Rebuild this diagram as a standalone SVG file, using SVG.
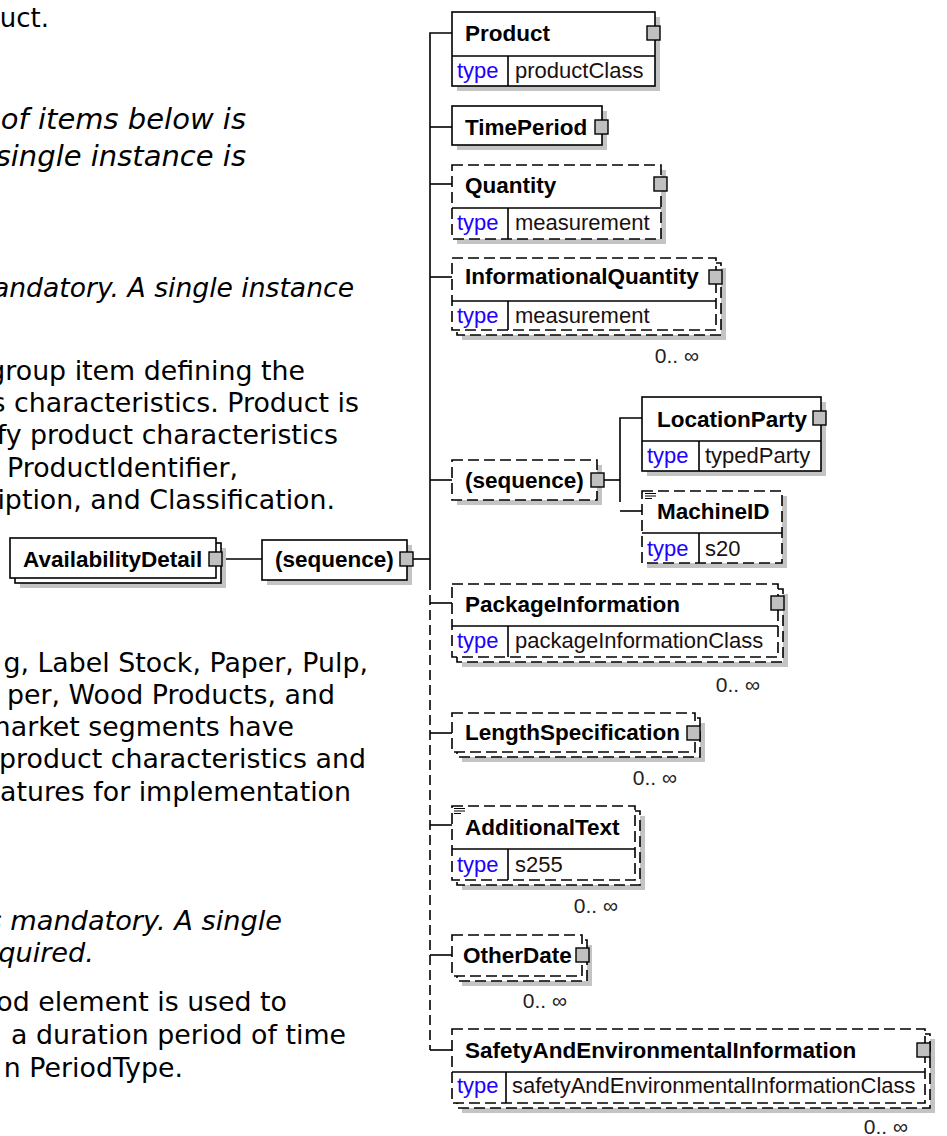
<svg xmlns="http://www.w3.org/2000/svg" width="947" height="1136" viewBox="0 0 947 1136">
<style>
.bg{fill:#fff}
.p{font-family:"DejaVu Sans",Verdana,sans-serif;font-size:26.8px;fill:#000;text-anchor:end}
.it{font-style:italic;font-size:26.6px}
.i2{font-style:italic;font-size:27.2px}
.ib{font-style:italic;font-size:29px}
.sm{font-size:26px}
.nm{font-family:"Liberation Sans",Arial,sans-serif;font-weight:bold;font-size:22.5px;fill:#000}
.tl{font-family:"Liberation Sans",Arial,sans-serif;font-size:22px;fill:#2200ff}
.tv{font-family:"Liberation Sans",Arial,sans-serif;font-size:22px;fill:#1a1010}
.oc{font-family:"Liberation Sans",Arial,sans-serif;font-size:21px;fill:#222;text-anchor:end}
.sh{fill:#c4c4c4}
.bx{fill:#fff;stroke:#000;stroke-width:1.6}
.db{fill:#fff;stroke:#000;stroke-width:1.6;stroke-dasharray:11 5}
.ln{fill:none;stroke:#000;stroke-width:1.6}
.dl{fill:none;stroke:#000;stroke-width:1.6;stroke-dasharray:10 5}
.sq{fill:#c0c0c0;stroke:#000;stroke-width:1.4}
.doc{fill:none;stroke:#000;stroke-width:1}
</style>
<rect class="bg" x="0" y="0" width="947" height="1136"/>

<g id="description-text">
<text class="p sm" x="49" y="27">uct.</text>
<text class="p ib" x="246" y="129">of items below is</text>
<text class="p ib" x="246" y="166">single instance is</text>
<text class="p it" x="354" y="297">andatory. A single instance</text>
<text class="p" x="305" y="380">group item defining the</text>
<text class="p" x="359" y="412">s characteristics. Product is</text>
<text class="p" x="338" y="444">fy product characteristics</text>
<text class="p" x="238" y="477">ProductIdentifier,</text>
<text class="p" x="335" y="509">iption, and Classification.</text>
<text class="p" x="368" y="672">g, Label Stock, Paper, Pulp,</text>
<text class="p" x="335" y="704">per, Wood Products, and</text>
<text class="p" x="294" y="736">market segments have</text>
<text class="p" x="366" y="768">product characteristics and</text>
<text class="p" x="351" y="801">atures for implementation</text>
<text class="p i2" x="282" y="930">s mandatory. A single</text>
<text class="p i2" x="94" y="962">quired.</text>
<text class="p" x="287" y="1011">od element is used to</text>
<text class="p" x="346" y="1044">a duration period of time</text>
<text class="p" x="183" y="1077">n PeriodType.</text>
</g>

<g id="connectors">
<path class="ln" d="M222,559 H262"/>
<path class="ln" d="M413,559 H430"/>
<path class="ln" d="M452,33 H430 V580"/>
<path class="dl" d="M430,580 V1050"/>
<path class="ln" d="M430,1050 H452"/>
<path class="ln" d="M430,127 H452"/>
<path class="ln" d="M430,184 H452"/>
<path class="ln" d="M430,277 H452"/>
<path class="ln" d="M430,480 H452"/>
<path class="ln" d="M430,603 H452"/>
<path class="ln" d="M430,733 H452"/>
<path class="ln" d="M430,825 H452"/>
<path class="ln" d="M430,955 H452"/>
<path class="ln" d="M604,480 H620"/>
<path class="ln" d="M642,418 H620 V502"/>
<path class="ln" d="M620,511 H642"/>
</g>

<g id="n-availabilitydetail">
<rect class="sh" x="20" y="548" width="206" height="40"/>
<rect class="bx" x="15" y="543" width="206" height="40"/>
<rect class="bx" x="10" y="538" width="206" height="40"/>
<text class="nm" x="23" y="567">AvailabilityDetail</text>
<rect class="sq" x="209" y="552" width="13" height="14"/>
</g>

<g id="n-sequence">
<rect class="sh" x="267" y="545" width="145" height="40"/>
<rect class="bx" x="262" y="540" width="145" height="40"/>
<text class="nm" x="275" y="567">(sequence)</text>
<rect class="sq" x="400" y="552" width="13" height="14"/>
</g>

<g id="n-product">
<rect class="sh" x="457" y="17" width="203" height="74"/>
<rect class="bx" x="452" y="12" width="203" height="74"/>
<path class="ln" d="M452,56 H655 M508,56 V86"/>
<text class="nm" x="465" y="41">Product</text>
<text class="tl" x="457" y="78">type</text>
<text class="tv" x="515" y="78">productClass</text>
<rect class="sq" x="647" y="26" width="13" height="14"/>
</g>

<g id="n-timeperiod">
<rect class="sh" x="457" y="111" width="150" height="39"/>
<rect class="bx" x="452" y="106" width="150" height="39"/>
<text class="nm" x="465" y="135">TimePeriod</text>
<rect class="sq" x="595" y="120" width="13" height="14"/>
</g>

<g id="n-quantity">
<rect class="sh" x="457" y="170" width="209" height="74"/>
<rect class="db" x="452" y="165" width="209" height="74"/>
<path class="ln" d="M452,208 H661 M508,208 V239"/>
<text class="nm" x="465" y="193">Quantity</text>
<text class="tl" x="457" y="230">type</text>
<text class="tv" x="515" y="230">measurement</text>
<rect class="sq" x="654" y="177" width="13" height="14"/>
</g>

<g id="n-informationalquantity">
<rect class="sh" x="462" y="268" width="264" height="72"/>
<rect class="db" x="457" y="263" width="264" height="72"/>
<rect class="db" x="452" y="258" width="264" height="72"/>
<path class="ln" d="M452,301 H716 M508,301 V330"/>
<text class="nm" x="465" y="284">InformationalQuantity</text>
<text class="tl" x="457" y="323">type</text>
<text class="tv" x="515" y="323">measurement</text>
<rect class="sq" x="709" y="270" width="13" height="14"/>
<text class="oc" x="699" y="363">0.. ∞</text>
</g>

<g id="n-sequence-optional">
<rect class="sh" x="457" y="465" width="145" height="40"/>
<rect class="db" x="452" y="460" width="145" height="40"/>
<text class="nm" x="465" y="488">(sequence)</text>
<rect class="sq" x="591" y="473" width="13" height="14"/>
</g>

<g id="n-locationparty">
<rect class="sh" x="647" y="402" width="179" height="74"/>
<rect class="bx" x="642" y="397" width="179" height="74"/>
<path class="ln" d="M642,441 H821 M699,441 V471"/>
<text class="nm" x="657" y="427">LocationParty</text>
<text class="tl" x="647" y="463">type</text>
<text class="tv" x="705" y="463">typedParty</text>
<rect class="sq" x="813" y="411" width="13" height="14"/>
</g>

<g id="n-machineid">
<rect class="sh" x="647" y="496" width="140" height="72"/>
<rect class="db" x="642" y="491" width="140" height="72"/>
<path class="ln" d="M642,533 H782 M699,533 V563"/>
<path class="doc" d="M645,493.5 H656 M645,496 H656 M645,498.5 H652"/>
<text class="nm" x="657" y="519">MachineID</text>
<text class="tl" x="647" y="556">type</text>
<text class="tv" x="705" y="556">s20</text>
</g>

<g id="n-packageinformation">
<rect class="sh" x="462" y="594" width="326" height="73"/>
<rect class="db" x="457" y="589" width="326" height="73"/>
<rect class="db" x="452" y="584" width="326" height="73"/>
<path class="ln" d="M452,626 H778 M508,626 V657"/>
<text class="nm" x="465" y="612">PackageInformation</text>
<text class="tl" x="457" y="648">type</text>
<text class="tv" x="515" y="648">packageInformationClass</text>
<rect class="sq" x="771" y="596" width="13" height="14"/>
<text class="oc" x="760" y="692">0.. ∞</text>
</g>

<g id="n-lengthspecification">
<rect class="sh" x="462" y="723" width="243" height="39"/>
<rect class="db" x="457" y="718" width="243" height="39"/>
<rect class="db" x="452" y="713" width="243" height="39"/>
<text class="nm" x="465" y="740">LengthSpecification</text>
<rect class="sq" x="687" y="726" width="13" height="14"/>
<text class="oc" x="677" y="785">0.. ∞</text>
</g>

<g id="n-additionaltext">
<rect class="sh" x="462" y="816" width="183" height="74"/>
<rect class="db" x="457" y="811" width="183" height="74"/>
<rect class="db" x="452" y="806" width="183" height="74"/>
<path class="ln" d="M452,849 H635 M508,849 V880"/>
<path class="doc" d="M454,808.5 H465 M454,811 H465 M454,813.5 H461"/>
<text class="nm" x="465" y="835">AdditionalText</text>
<text class="tl" x="457" y="872">type</text>
<text class="tv" x="515" y="872">s255</text>
<text class="oc" x="618" y="913">0.. ∞</text>
</g>

<g id="n-otherdate">
<rect class="sh" x="462" y="945" width="130" height="41"/>
<rect class="db" x="457" y="940" width="130" height="41"/>
<rect class="db" x="452" y="935" width="130" height="41"/>
<text class="nm" x="463" y="963">OtherDate</text>
<rect class="sq" x="576" y="948" width="13" height="14"/>
<text class="oc" x="567" y="1008">0.. ∞</text>
</g>

<g id="n-safetyandenvironmentalinformation">
<rect class="sh" x="462" y="1039" width="473" height="74"/>
<rect class="db" x="457" y="1034" width="473" height="74"/>
<rect class="db" x="452" y="1029" width="473" height="74"/>
<path class="ln" d="M452,1072 H925 M506,1072 V1103"/>
<text class="nm" x="465" y="1058">SafetyAndEnvironmentalInformation</text>
<text class="tl" x="457" y="1093">type</text>
<text class="tv" x="512" y="1093">safetyAndEnvironmentalInformationClass</text>
<rect class="sq" x="917" y="1043" width="13" height="14"/>
<text class="oc" x="908" y="1134">0.. ∞</text>
</g>
</svg>
